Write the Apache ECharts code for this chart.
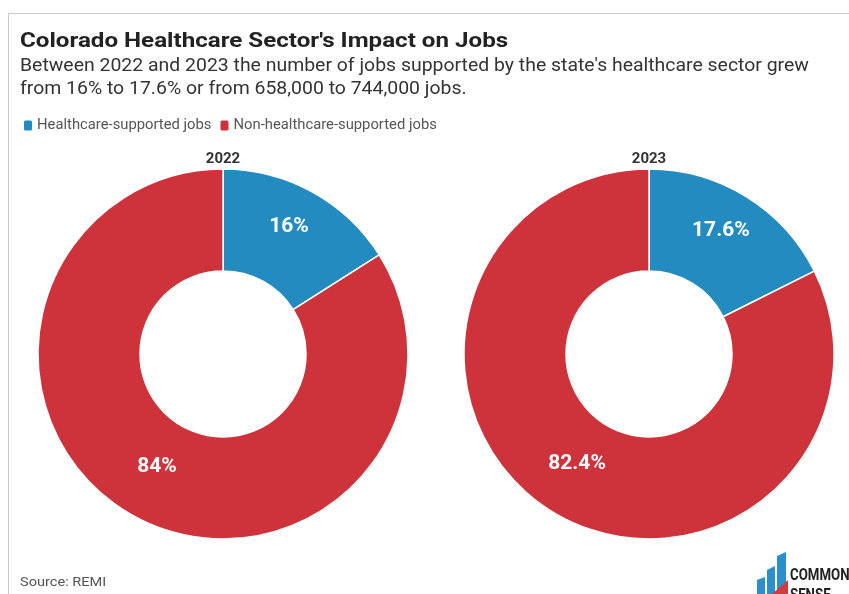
<!DOCTYPE html>
<html>
<head>
<meta charset="utf-8">
<script src="https://cdn.jsdelivr.net/npm/echarts@6/dist/echarts.min.js"></script>
<style>
html,body{margin:0;padding:0;background:#fff;}
#chart{width:849px;height:594px;}
</style>
</head>
<body>
<div id="chart"></div>
<script>
const categories = ['Healthcare-supported jobs', 'Non-healthcare-supported jobs'];
const years = ['2022', '2023'];
const values2022 = [16, 84];
const values2023 = [17.6, 82.4];
const colors = ['#238bc0', '#ce323b'];
const titleText = "Colorado Healthcare Sector's Impact on Jobs";
const subtitleLines = [
  "Between 2022 and 2023 the number of jobs supported by the state's healthcare sector grew",
  "from 16% to 17.6% or from 658,000 to 744,000 jobs."
];
const sourceText = 'Source: REMI';

const chart = echarts.init(document.getElementById('chart'), null, {renderer: 'canvas'});
const FONT = 'Roboto';

function pieSeries(name, values, cx) {
  return {
    type: 'pie',
    name: name,
    center: [cx, 354],
    radius: [83, 185],
    startAngle: 90,
    clockwise: true,
    avoidLabelOverlap: false,
    silent: true,
    itemStyle: {borderColor: '#ffffff', borderWidth: 1.5},
    label: {
      show: true,
      position: 'inside',
      formatter: '{c}%',
      color: '#ffffff',
      fontFamily: FONT,
      fontWeight: 'bold',
      fontSize: 21,
      offset: [0, -7]
    },
    labelLine: {show: false},
    emphasis: {disabled: true},
    data: categories.map((c, i) => ({name: c, value: values[i]}))
  };
}

function txt(text, x, y, size, weight, color, sx, align) {
  return {
    type: 'text', x: x, y: y, scaleX: sx || 1, silent: true,
    style: {text: text, fontFamily: FONT, fontSize: size, fontWeight: weight, fill: color,
            align: align || 'left', verticalAlign: 'middle'}
  };
}

chart.setOption({
  animation: false,
  color: colors,
  legend: {
    left: 22, top: 118, padding: 0,
    icon: 'roundRect',
    itemWidth: 10, itemHeight: 12, itemGap: 7,
    textStyle: {fontFamily: FONT, fontSize: 14.8, color: '#555', padding: [0, 0, 0, -1]},
    data: categories,
    selectedMode: false
  },
  graphic: [
    {type: 'line', shape: {x1: 8.5, y1: 13.5, x2: 860, y2: 13.5}, style: {stroke: '#c8c8c8', lineWidth: 1}, silent: true},
    {type: 'line', shape: {x1: 8.5, y1: 13.5, x2: 8.5, y2: 600}, style: {stroke: '#c8c8c8', lineWidth: 1}, silent: true},
    txt(titleText, 20, 42, 21, 'bold', '#222', 1.15),
    txt(subtitleLines[0], 20, 67, 17.5, 'normal', '#333', 1.11),
    txt(subtitleLines[1], 20, 90, 17.5, 'normal', '#333', 1.11),
    txt(years[0], 223, 159, 15, 'bold', '#333', 1.0, 'center'),
    txt(years[1], 649, 159, 15, 'bold', '#333', 1.0, 'center'),
    txt(sourceText, 20, 583, 13.5, 'normal', '#555', 1.08),
    // logo
    {type: 'polygon', shape: {points: [[777,556],[786,552],[786,600],[777,600]]}, style: {fill: '#2a8fcb'}, silent: true},
    {type: 'polygon', shape: {points: [[767,570],[775,566],[775,600],[767,600]]}, style: {fill: '#2a8fcb'}, silent: true},
    {type: 'polygon', shape: {points: [[757,580],[765,577],[765,600],[757,600]]}, style: {fill: '#2a8fcb'}, silent: true},
    {type: 'polygon', shape: {points: [[772,594],[788,580],[788,600],[772,600]]}, style: {fill: '#d33a40'}, silent: true},
    {type: 'text', x: 790, y: 576, scaleX: 0.78, silent: true,
     style: {text: 'COMMON', fontFamily: FONT, fontWeight: 'bold', fontSize: 17, fill: '#222', verticalAlign: 'middle'}},
    {type: 'text', x: 790, y: 596, scaleX: 0.78, silent: true,
     style: {text: 'SENSE', fontFamily: FONT, fontWeight: 'bold', fontSize: 17, fill: '#222', verticalAlign: 'middle'}}
  ],
  series: [
    pieSeries(years[0], values2022, 223),
    pieSeries(years[1], values2023, 649)
  ]
});
</script>
</body>
</html>
